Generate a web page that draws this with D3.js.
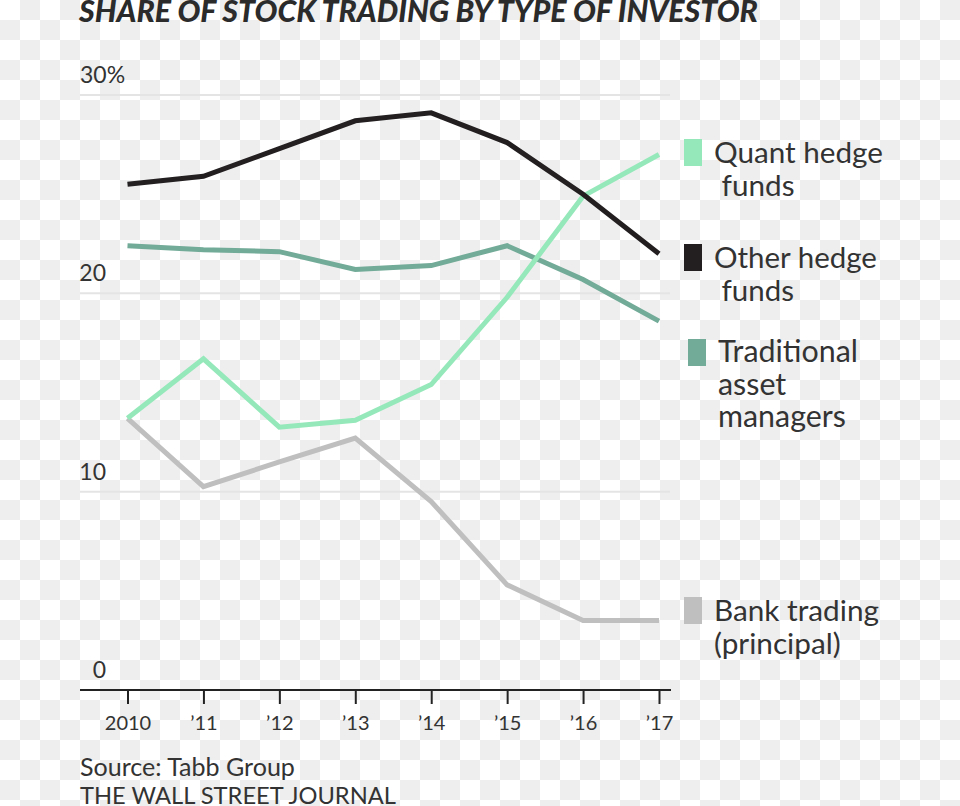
<!DOCTYPE html>
<html>
<head>
<meta charset="utf-8">
<script src="https://cdn.jsdelivr.net/npm/d3@7"></script>
<style>
  html, body { margin: 0; padding: 0; background: #fff; }
  svg { display: block; }
  text { font-family: Lato, "Open Sans", sans-serif; fill: #333; }
</style>
</head>
<body>
<script>
// ---- data ----
const years = [2010, 2011, 2012, 2013, 2014, 2015, 2016, 2017];
const yearLabels = ["2010", "\u201911", "\u201912", "\u201913", "\u201914", "\u201915", "\u201916", "\u201917"];
const quantHedge = [13.7, 16.7, 13.25, 13.6, 15.4, 19.8, 24.9, 27.0];
const otherHedge = [25.5, 25.9, 27.3, 28.7, 29.1, 27.6, 25.0, 22.0];
const traditional = [22.4, 22.2, 22.1, 21.2, 21.4, 22.4, 20.7, 18.6];
const bankTrading = [13.7, 10.25, 11.5, 12.7, 9.5, 5.3, 3.5, 3.5];
const yTicks = [0, 10, 20, 30];
const yTickLabels = ["0", "10", "20", "30%"];
const seriesNames = [["Quant hedge", " funds"], ["Other hedge", " funds"], ["Traditional", "asset", "managers"], ["Bank trading", "(principal)"]];
const titleText = "SHARE OF STOCK TRADING BY TYPE OF INVESTOR";
const sourceText = "Source: Tabb Group";
const creditText = "THE WALL STREET JOURNAL";

// ---- styles ----
const colors = { quant: "#95e8ba", other: "#231f20", trad: "#72ab97", bank: "#bfbfbf" };

const W = 960, H = 806;
const svg = d3.select("body").append("svg").attr("width", W).attr("height", H);

// checkerboard background
const defs = svg.append("defs");
const pat = defs.append("pattern").attr("id", "chk").attr("width", 40).attr("height", 40)
  .attr("patternUnits", "userSpaceOnUse");
pat.append("rect").attr("width", 40).attr("height", 40).attr("fill", "#ffffff");
pat.append("rect").attr("x", 20).attr("y", 0).attr("width", 20).attr("height", 20).attr("fill", "#eeeeee");
pat.append("rect").attr("x", 0).attr("y", 20).attr("width", 20).attr("height", 20).attr("fill", "#eeeeee");
svg.append("rect").attr("width", W).attr("height", H).attr("fill", "url(#chk)");

const x = d3.scaleLinear().domain([2010, 2017]).range([127.5, 659]);
const y = d3.scaleLinear().domain([0, 30]).range([690, 95]);

function fitSize(sel, target) {
  const fs = parseFloat(sel.attr("font-size"));
  const w = sel.node().getComputedTextLength();
  return fs * target / w;
}

// title
const title = svg.append("text").attr("x", 79).attr("y", 22)
  .attr("font-size", 26).attr("font-weight", 900).attr("font-style", "italic")
  .style("fill", "#2b2b2b").text(titleText);
title.attr("font-size", fitSize(title, 679).toFixed(2));

// gridlines
svg.append("g").selectAll("line").data(yTicks.filter(d => d > 0)).join("line")
  .attr("x1", 80).attr("x2", 670)
  .attr("y1", d => y(d)).attr("y2", d => y(d))
  .attr("stroke", "#e4e4e4").attr("stroke-width", 2);

// y labels
svg.append("g").selectAll("text").data(yTicks).join("text")
  .attr("x", (d, i) => yTickLabels[i].endsWith("%") ? 80 : 106)
  .attr("text-anchor", (d, i) => yTickLabels[i].endsWith("%") ? "start" : "end")
  .attr("y", d => y(d) - 12)
  .attr("font-size", 23)
  .text((d, i) => yTickLabels[i]);

// x axis
const xAxis = d3.axisBottom(x).tickValues(years).tickSize(14).tickPadding(12)
  .tickFormat((d, i) => yearLabels[i]);
const gx = svg.append("g").attr("transform", `translate(0,${y(0)})`).call(xAxis);
gx.select(".domain").remove();
gx.selectAll(".tick line").attr("stroke", "#222").attr("stroke-width", 2);
gx.selectAll(".tick text").attr("font-size", 20).attr("font-family", "Lato, sans-serif").style("fill", "#333");
svg.append("line").attr("x1", 80).attr("x2", 671).attr("y1", y(0)).attr("y2", y(0))
  .attr("stroke", "#222").attr("stroke-width", 2);

// lines
const line = d3.line().x((d, i) => x(years[i])).y(d => y(d));
const series = [
  { key: "bank", values: bankTrading },
  { key: "trad", values: traditional },
  { key: "quant", values: quantHedge },
  { key: "other", values: otherHedge }
];
svg.append("g").selectAll("path").data(series).join("path")
  .attr("d", d => line(d.values))
  .attr("fill", "none")
  .attr("stroke", d => colors[d.key])
  .attr("stroke-width", 5)
  .attr("stroke-linejoin", "miter");

// legend
const legend = [
  { key: "quant", rx: 684, ry: 139, tx: 714, ty: 163, w: 169 },
  { key: "other", rx: 684, ry: 244, tx: 714, ty: 268, w: 163 },
  { key: "trad", rx: 688, ry: 339, tx: 718, ty: 362, w: 140 },
  { key: "bank", rx: 684, ry: 597, tx: 714, ty: 621, w: 165 }
];
const lg = svg.append("g");
legend.forEach((l, i) => {
  lg.append("rect").attr("x", l.rx).attr("y", l.ry).attr("width", 18).attr("height", 27)
    .attr("fill", colors[l.key]);
  const t = lg.append("text").attr("x", l.tx).attr("y", l.ty).attr("font-size", 27)
    .attr("xml:space", "preserve");
  seriesNames[i].forEach((s, j) => {
    t.append("tspan").attr("x", l.tx).attr("dy", j === 0 ? 0 : 32.5).text(s);
  });
  const first = t.select("tspan");
  const fs = 27 * l.w / first.node().getComputedTextLength();
  t.attr("font-size", fs.toFixed(2));
});

// source
const src = svg.append("text").attr("x", 80).attr("y", 776).attr("font-size", 22).text(sourceText);
src.attr("font-size", fitSize(src, 215).toFixed(2));
const cred = svg.append("text").attr("x", 80).attr("y", 804).attr("font-size", 22).text(creditText);
cred.attr("font-size", fitSize(cred, 316).toFixed(2));
</script>
</body>
</html>
